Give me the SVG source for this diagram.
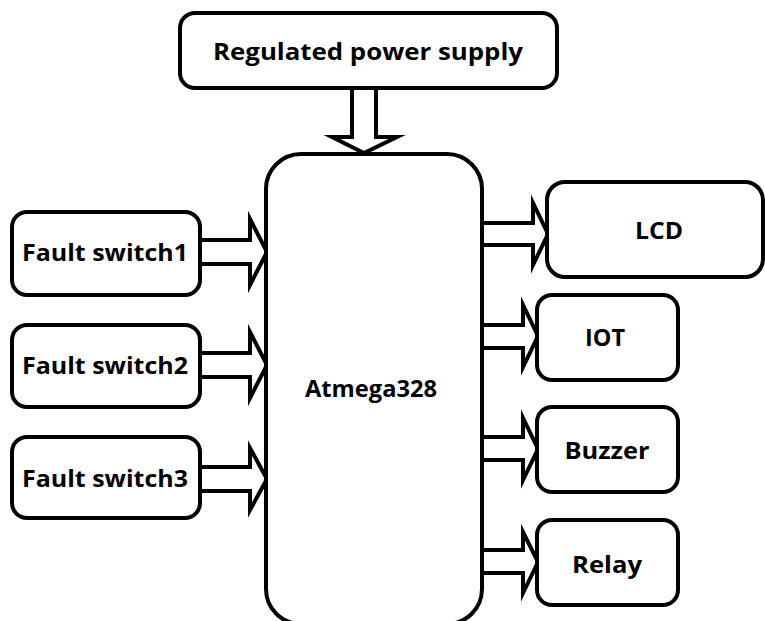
<svg xmlns="http://www.w3.org/2000/svg" width="765" height="621" viewBox="0 0 765 621">
<style>
.box{fill:#fff;stroke:#000;stroke-width:4}
.arr{fill:#fff;stroke:#000;stroke-width:4;stroke-linejoin:miter;stroke-miterlimit:10}
.lbl{font-family:"Open Sans","Liberation Sans",sans-serif;font-weight:bold;font-size:24px;fill:#000;text-anchor:middle}
</style>
<rect width="765" height="621" fill="#fff"/>
<g id="connectors">
<path class="arr" d="M352,88 V137 H332 L364,153 L397,137 H376 V88"/>
<path class="arr" d="M200,240 H250 V219 L267,252 L250,285 V264 H200"/>
<path class="arr" d="M200,353 H250 V332 L267,365 L250,398 V377 H200"/>
<path class="arr" d="M200,467 H250 V448 L267,479 L250,510 V491 H200"/>
<path class="arr" d="M482,223 H533 V203 L548,234 L533,265 V245 H482"/>
<path class="arr" d="M482,325 H523 V305 L538,336 L523,367 V348 H482"/>
<path class="arr" d="M482,437 H523 V418 L538,449 L523,480 V460 H482"/>
<path class="arr" d="M482,550 H523 V532 L538,562 L523,593 V573 H482"/>
</g>
<g id="power">
<rect class="box" x="180" y="13" width="377" height="75" rx="15"/>
<text class="lbl" x="368" y="60" textLength="310" lengthAdjust="spacingAndGlyphs">Regulated power supply</text>
</g>
<g id="mcu">
<rect class="box" x="266" y="154" width="216" height="470" rx="35"/>
<text class="lbl" x="371" y="397" textLength="132" lengthAdjust="spacingAndGlyphs">Atmega328</text>
</g>
<g id="fs1">
<rect class="box" x="12" y="212" width="188" height="83" rx="15"/>
<text class="lbl" x="105" y="261" textLength="166" lengthAdjust="spacingAndGlyphs">Fault switch1</text>
</g>
<g id="fs2">
<rect class="box" x="12" y="325" width="188" height="82" rx="15"/>
<text class="lbl" x="105" y="374" textLength="166" lengthAdjust="spacingAndGlyphs">Fault switch2</text>
</g>
<g id="fs3">
<rect class="box" x="12" y="437" width="188" height="81" rx="15"/>
<text class="lbl" x="105" y="487" textLength="166" lengthAdjust="spacingAndGlyphs">Fault switch3</text>
</g>
<g id="lcd">
<rect class="box" x="547" y="182" width="216" height="95" rx="18"/>
<text class="lbl" x="659" y="239" textLength="48" lengthAdjust="spacingAndGlyphs">LCD</text>
</g>
<g id="iot">
<rect class="box" x="537" y="295" width="141" height="85" rx="15"/>
<text class="lbl" x="605" y="346" textLength="40" lengthAdjust="spacingAndGlyphs">IOT</text>
</g>
<g id="buzzer">
<rect class="box" x="537" y="407" width="141" height="85" rx="15"/>
<text class="lbl" x="607" y="459" textLength="85" lengthAdjust="spacingAndGlyphs">Buzzer</text>
</g>
<g id="relay">
<rect class="box" x="537" y="520" width="141" height="85" rx="15"/>
<text class="lbl" x="607" y="573" textLength="70" lengthAdjust="spacingAndGlyphs">Relay</text>
</g>
</svg>
